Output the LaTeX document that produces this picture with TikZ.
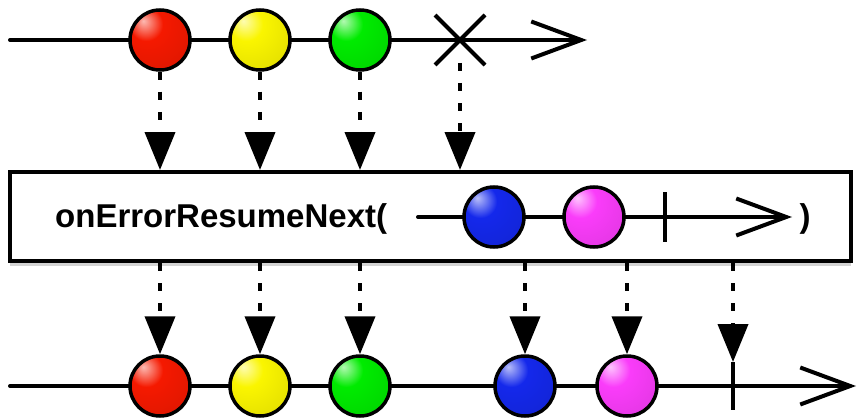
\documentclass[tikz,border=0pt]{standalone}
\usepackage{fontspec}
\setmainfont{Liberation Sans}
\usetikzlibrary{arrows.meta,shadows}
\definecolor{bred}{RGB}{245,25,0}
\definecolor{byellow}{RGB}{250,245,0}
\definecolor{bgreen}{RGB}{0,235,0}
\definecolor{bblue}{RGB}{20,40,235}
\definecolor{bmagenta}{RGB}{250,60,250}
\newcommand\mkballshade[1]{\pgfdeclareradialshading{shade#1}{\pgfpoint{-14bp}{16bp}}{color(0bp)=(#1!30!white); color(14bp)=(#1); color(42bp)=(#1!90!black); color(58bp)=(#1!65!black); color(80bp)=(#1!60!black)}}
\mkballshade{bred}
\mkballshade{byellow}
\mkballshade{bgreen}
\mkballshade{bblue}
\mkballshade{bmagenta}
\tikzset{
  tl/.style={line width=4pt, line cap=round},
  ballnode/.style={circle, draw, line width=3.5pt, minimum size=60pt, inner sep=0pt, shading=shade#1},
  conn/.style={line width=4pt, dash pattern=on 8pt off 12pt, -{Triangle[length=38pt,width=30pt]}},
  barb/.style={-{Straight Barb[length=50pt,width=37pt,sharp]}},
}
\begin{document}
\begin{tikzpicture}[x=1pt,y=-1pt]
\useasboundingbox (0,0) rectangle (857,420);
% box
\node[draw, line width=4pt, minimum width=841pt, minimum height=89pt, inner sep=0pt, fill=white,
  drop shadow={shadow xshift=0pt, shadow yshift=-5pt, opacity=0.35}] (box) at (430.5,216.5) {};
\node[anchor=base west, font=\bfseries\fontsize{33}{40}\selectfont, inner sep=0pt] (lbl) at (55,227) {onErrorResumeNext(};
\node[anchor=base, font=\bfseries\fontsize{33}{40}\selectfont, inner sep=0pt] (rp) at (805,227) {)};
% top timeline
\coordinate (ts) at (10,40);
\coordinate (te) at (587,40);
\draw[tl, barb] (ts) -- (te);
\coordinate (xc) at (460,40);
\draw[line width=4pt] ([shift={(-25,-25)}]xc) -- ([shift={(25,25)}]xc)
  ([shift={(-25,25)}]xc) -- ([shift={(25,-25)}]xc);
\node[ballnode=bred] (r1) at (160,40) {};
\node[ballnode=byellow] (y1) at (260,40) {};
\node[ballnode=bgreen] (g1) at (360,40) {};
% inner timeline
\coordinate (is) at (418,217);
\coordinate (ie) at (792,217);
\draw[tl, barb] (is) -- (ie);
\draw[line width=4pt] (665,192) -- (665,242);
\node[ballnode=bblue] (bl) at (494,217) {};
\node[ballnode=bmagenta] (mg) at (594,217) {};
% bottom timeline
\coordinate (bs) at (10,386);
\coordinate (be) at (856,386);
\draw[tl, barb] (bs) -- (be);
\coordinate (tk) at (733,362);
\draw[line width=4pt] (tk) -- (733,410);
\node[ballnode=bred] (r2) at (160,386) {};
\node[ballnode=byellow] (y2) at (260,386) {};
\node[ballnode=bgreen] (g2) at (360,386) {};
\node[ballnode=bblue] (b2) at (525,386) {};
\node[ballnode=bmagenta] (m2) at (627,386) {};
% connectors top -> box
\coordinate (xd) at (460,63);
\draw[conn] (r1.south) -- (r1.south |- box.north);
\draw[conn] (y1.south) -- (y1.south |- box.north);
\draw[conn] (g1.south) -- (g1.south |- box.north);
\draw[conn] (xd) -- (xd |- box.north);
% connectors box -> bottom
\draw[conn] (r2.north |- box.south) -- (r2.north);
\draw[conn] (y2.north |- box.south) -- (y2.north);
\draw[conn] (g2.north |- box.south) -- (g2.north);
\draw[conn] (b2.north |- box.south) -- (b2.north);
\draw[conn] (m2.north |- box.south) -- (m2.north);
\draw[conn] (tk |- box.south) -- (tk);
\end{tikzpicture}
\end{document}
